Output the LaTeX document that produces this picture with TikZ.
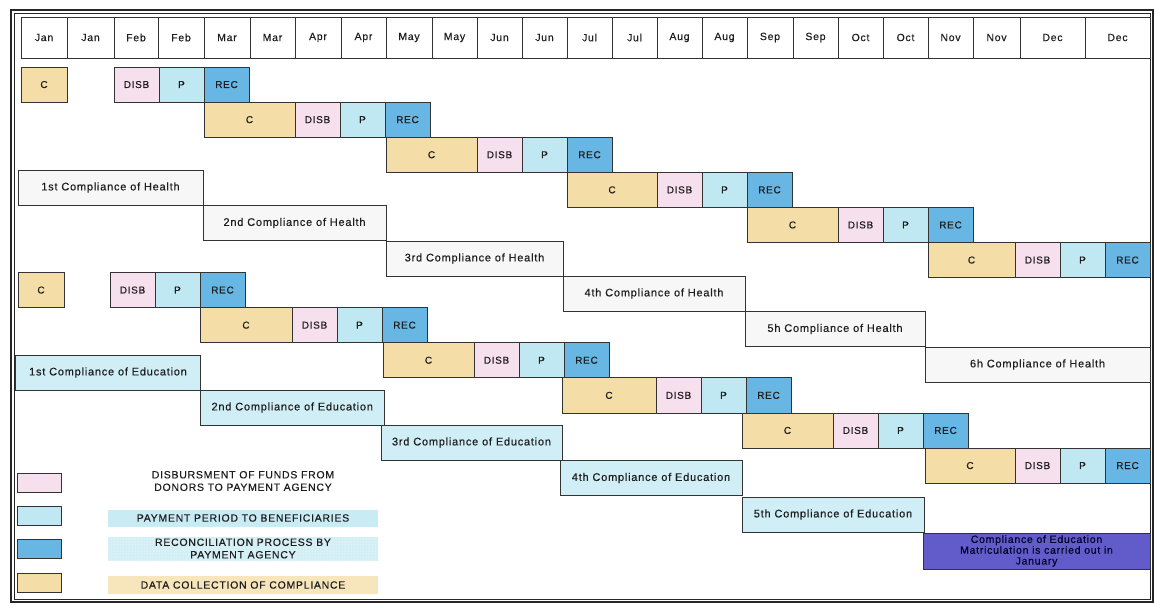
\documentclass[tikz,border=0pt]{standalone}
\usepackage{fontspec}
\setmainfont[LetterSpace=7,FakeBold=0.4]{Liberation Sans}
\usepackage{xcolor}
\usepackage{tikz}
\usetikzlibrary{positioning,patterns}
\definecolor{corange}{RGB}{244,221,166}
\definecolor{cpink}{RGB}{247,224,238}
\definecolor{ccyan}{RGB}{192,232,242}
\definecolor{cblue}{RGB}{104,182,228}
\definecolor{cpurple}{RGB}{98,92,202}
\definecolor{cink}{RGB}{30,30,30}
\tikzset{
cell/.style={draw=black!80,line width=0.7pt,inner sep=0pt,outer sep=0pt,text=cink,
  minimum height=35.1pt,font=\fontsize{10}{12}\selectfont},
cbox/.style={cell,fill=corange},
disb/.style={cell,fill=cpink,minimum width=45pt},
pay/.style={cell,fill=ccyan,minimum width=45pt},
rec/.style={cell,fill=cblue,minimum width=45pt},
hbox/.style={cell,fill=black!3,anchor=north west,font=\fontsize{11}{13}\selectfont},
ebox/.style={cell,fill=ccyan!75,anchor=north west,font=\fontsize{11}{13}\selectfont},
month/.style={cell,minimum height=41pt,anchor=north west,font=\fontsize{10.5}{12}\selectfont},
legbox/.style={draw=black!80,line width=0.7pt,minimum width=44pt,minimum height=19pt,inner sep=0pt},
legtext/.style={align=center,inner sep=0pt,minimum width=270pt,text=cink,
  font=\fontsize{10.5}{12.5}\selectfont}
}
\begin{document}
\begin{tikzpicture}[x=1pt,y=-1pt]
\useasboundingbox (0,0) rectangle (1155,605);
\draw[line width=1.4pt,black!85](11,10) rectangle (1153,602);
\draw[line width=0.7pt,black!85](14,13) rectangle (1150.5,599.5);
%%% months
\foreach \xa/\xb/\m [count=\i] in {21/67/Jan,67/114/Jan,114/158/Feb,158/204/Feb,204/250/Mar,250/295/Mar,
  295/341/Apr,341/386/Apr,386/432/May,432/477/May,477/522/Jun,522/567/Jun,567/612/Jul,612/657/Jul,
  657/702/Aug,702/747/Aug,747/793/Sep,793/838/Sep,838/883/Oct,883/928/Oct,928/973/Nov,973/1020/Nov,
  1020/1085/Dec,1085/1150/Dec}
  \node[month,minimum width=\xb-\xa] (m\i) at (\xa,17) {\m};
%%% health
\node[cbox,anchor=north west,minimum width=46pt] (hc1) at (21,67) {C};
\node[disb,anchor=north west] (hd1) at (114,67) {DISB};
\node[pay,right=0pt of hd1] (hp1) {P};
\node[rec,right=0pt of hp1] (hr1) {REC};
\foreach \x/\y/\w [count=\i from 2] in {204/102.1/91,386/137.2/91,567/172.3/90,747/207.4/91,928/242.5/87}{
  \node[cbox,anchor=north west,minimum width=\w] (hc\i) at (\x,\y) {C};
  \node[disb,right=0pt of hc\i] (hd\i) {DISB};
  \node[pay,right=0pt of hd\i] (hp\i) {P};
  \node[rec,right=0pt of hp\i] (hr\i) {REC};
}
\node[hbox,minimum width=185pt] (h1) at (18,170) {1st Compliance of Health};
\node[hbox,minimum width=183pt] (h2) at (203,205.5) {2nd Compliance of Health};
\node[hbox,minimum width=177pt] (h3) at (386,241) {3rd Compliance of Health};
\node[hbox,minimum width=182pt] (h4) at (563,276) {4th Compliance of Health};
\node[hbox,minimum width=180pt] (h5) at (745,311.5) {5h Compliance of Health};
\node[hbox,minimum width=225pt] (h6) at (925,347) {6h Compliance of Health};
%%% education
\node[cbox,anchor=north west,minimum width=46pt] (ec1) at (18,272.5) {C};
\node[disb,anchor=north west] (ed1) at (110,272.5) {DISB};
\node[pay,right=0pt of ed1] (ep1) {P};
\node[rec,right=0pt of ep1] (er1) {REC};
\foreach \x/\y/\w [count=\i from 2] in {200/307.6/92,383/342.7/91,562/377.8/94,742/412.9/91,925/448/90}{
  \node[cbox,anchor=north west,minimum width=\w] (ec\i) at (\x,\y) {C};
  \node[disb,right=0pt of ec\i] (ed\i) {DISB};
  \node[pay,right=0pt of ed\i] (ep\i) {P};
  \node[rec,right=0pt of ep\i] (er\i) {REC};
}
\node[ebox,minimum width=185pt] (e1) at (15.5,355) {1st Compliance of Education};
\node[ebox,minimum width=184.5pt] (e2) at (200,390) {2nd Compliance of Education};
\node[ebox,minimum width=181pt] (e3) at (381,425) {3rd Compliance of Education};
\node[ebox,minimum width=182pt] (e4) at (560,460.5) {4th Compliance of Education};
\node[ebox,minimum width=182pt] (e5) at (742,497) {5th Compliance of Education};
\node[cell,anchor=north west,fill=cpurple,minimum width=227pt,minimum height=36pt,align=center,
  text=black!85!blue,font=\fontsize{10.5}{10.8}\selectfont] (e6) at (923,533)
  {Compliance of Education\\Matriculation is carried out in\\January};
%%% legend
\node[legbox,fill=cpink] (l1) at (39,482.5) {};
\node[legbox,fill=ccyan] (l2) at (39,516) {};
\node[legbox,fill=cblue] (l3) at (39,549) {};
\node[legbox,fill=corange] (l4) at (39,582.5) {};
\node[legtext] (t1) at (243,481) {DISBURSMENT OF FUNDS FROM\\DONORS TO PAYMENT AGENCY};
\node[legtext,fill=ccyan!85,minimum height=17pt] (t2) at (243,518) {PAYMENT PERIOD TO BENEFICIARIES};
\node[legtext,preaction={fill=ccyan!70},pattern=dots,pattern color=white,minimum height=24pt] (t3)
  at (243,548.5) {RECONCILIATION PROCESS BY\\PAYMENT AGENCY};
\node[legtext,fill=corange!75,minimum height=18pt] (t4) at (243,585) {DATA COLLECTION OF COMPLIANCE};
\end{tikzpicture}
\end{document}
